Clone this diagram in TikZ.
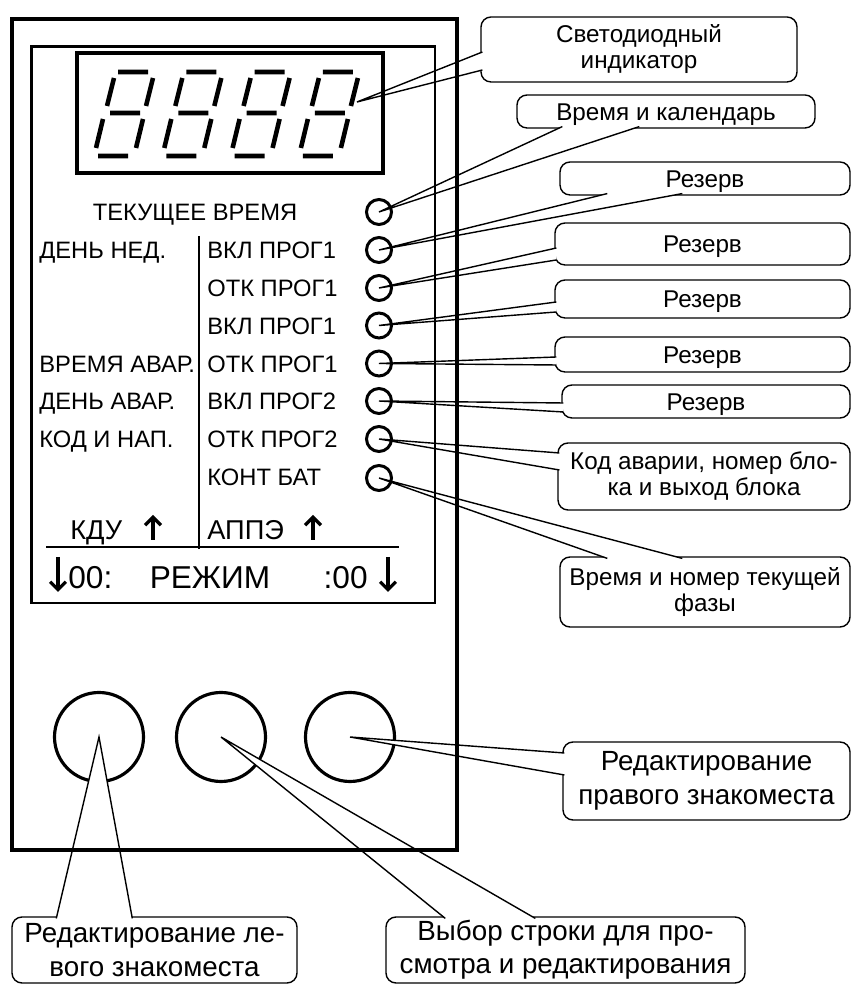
\documentclass[tikz,border=0pt]{standalone}
\usepackage{fontspec}
\setmainfont{Liberation Sans}
\usetikzlibrary{calc,arrows.meta}

\tikzset{
  led/.style={circle, draw, line width=1.7pt, minimum size=0.5cm, inner sep=0pt},
  knob/.style={circle, draw, line width=1.8pt, minimum size=1.78cm, inner sep=0pt},
  lbl/.style={font=\fontsize{13.5}{15}\selectfont, inner sep=0pt, text height=9.7pt, text depth=0pt},
  big/.style={font=\fontsize{15.5}{18}\selectfont, inner sep=0pt, text height=11.1pt, text depth=0pt},
  modetxt/.style={font=\fontsize{18}{20}\selectfont, inner sep=0pt, text height=12.9pt, text depth=0pt},
  note/.style={draw, line width=0.8pt, rounded corners=0.2cm, align=center, inner sep=0pt, font=\fontsize{13.8}{14.8}\selectfont},
  noteone/.style={note, text height=9.9pt, text depth=0pt},
  notebig/.style={note, font=\fontsize{15.8}{19}\selectfont},
  wedge/.style={draw, line width=0.8pt, fill=white},
  seg/.style={line width=2.6pt},
  arr/.style={->, line width=1.9pt}
}

\begin{document}
\begin{tikzpicture}[>={Straight Barb[length=4.5pt,width=9pt]}]
\useasboundingbox (0,0) rectangle (17.06,19.70);
\foreach \y [count=\i] in {15.46,14.70,13.94,13.19,12.43,11.68,10.92,10.14}
  \node[led] (l\i) at (7.58,\y) {};
\node[knob] (b1) at (1.98,4.96) {};
\node[knob] (b2) at (4.42,4.96) {};
\node[knob] (b3) at (7.00,4.96) {};
\coordinate (dig) at (7.14,17.66);

\node[note, minimum width=6.32cm, minimum height=1.30cm] (cled) at (12.78,18.71) {Светодиодный\\индикатор};
\node[noteone, minimum width=5.96cm, minimum height=0.66cm] (ctime) at (13.32,17.47) {Время и календарь};
\node[noteone, minimum width=5.80cm, minimum height=0.66cm] (res1) at (14.10,16.13) {Резерв};
\node[noteone, minimum width=5.90cm, minimum height=0.84cm] (res2) at (14.05,14.82) {Резерв};
\node[noteone, minimum width=5.90cm, minimum height=0.76cm] (res3) at (14.05,13.72) {Резерв};
\node[noteone, minimum width=5.90cm, minimum height=0.70cm] (res4) at (14.05,12.61) {Резерв};
\node[noteone, minimum width=5.76cm, minimum height=0.66cm] (res5) at (14.12,11.67) {Резерв};
\node[note, minimum width=5.84cm, minimum height=1.34cm] (ccode) at (14.08,10.17) {Код аварии, номер бло-\\ка и выход блока};
\node[note, minimum width=5.80cm, minimum height=1.40cm] (cphase) at (14.10,7.86) {Время и номер текущей\\фазы};
\node[notebig, minimum width=5.74cm, minimum height=1.56cm] (cright) at (14.13,4.08) {Редактирование\\правого знакоместа};
\node[notebig, minimum width=5.70cm, minimum height=1.32cm] (cleft) at (3.09,0.70) {Редактирование ле-\\вого знакоместа};
\node[notebig, minimum width=7.18cm, minimum height=1.32cm] (cmid) at (11.31,0.70) {Выбор строки для про-\\смотра и редактирования};

\draw[wedge] ([xshift=1.2pt,yshift=-0.05cm]cled.west) -- (dig) -- ([xshift=1.2pt,yshift=-0.41cm]cled.west);
\draw[wedge] ([xshift=0.92cm,yshift=1.2pt]ctime.south west) -- (l1.center) -- ([xshift=2.46cm,yshift=1.2pt]ctime.south west);
\draw[wedge] ([xshift=0.96cm,yshift=1.2pt]res1.south west) -- (l2.center) -- ([xshift=2.46cm,yshift=1.2pt]res1.south west);
\draw[wedge] ([xshift=1.2pt,yshift=-0.08cm]res2.west) -- (l3.center) -- ([xshift=1.2pt,yshift=-0.32cm]res2.west);
\draw[wedge] ([xshift=1.2pt,yshift=-0.06cm]res3.west) -- (l4.center) -- ([xshift=1.2pt,yshift=-0.26cm]res3.west);
\draw[wedge] ([xshift=1.2pt,yshift=-0.05cm]res4.west) -- (l5.center) -- ([xshift=1.2pt,yshift=-0.21cm]res4.west);
\draw[wedge] ([xshift=1.2pt,yshift=-0.03cm]res5.west) -- (l6.center) -- ([xshift=1.2pt,yshift=-0.21cm]res5.west);
\draw[wedge] ([xshift=1.2pt,yshift=0.47cm]ccode.west) -- (l7.center) -- ([xshift=1.2pt,yshift=0.13cm]ccode.west);
\draw[wedge] ([xshift=0.96cm,yshift=-1.2pt]cphase.north west) -- (l8.center) -- ([xshift=2.46cm,yshift=-1.2pt]cphase.north west);
\draw[wedge] ([xshift=1.2pt,yshift=0.56cm]cright.west) -- (b3.center) -- ([xshift=1.2pt,yshift=0.12cm]cright.west);
\draw[wedge] ([xshift=0.90cm,yshift=-1.2pt]cleft.north west) -- (b1.center) -- ([xshift=2.42cm,yshift=-1.2pt]cleft.north west);
\draw[wedge] ([xshift=1.20cm,yshift=-1.2pt]cmid.north west) -- (b2.center) -- ([xshift=3.00cm,yshift=-1.2pt]cmid.north west);

\draw[line width=2.3pt] (0.24,2.70) rectangle (9.14,19.32);
\draw[line width=1.5pt] (0.63,7.64) rectangle (8.70,18.77);
\draw[line width=1.9pt] (1.54,16.24) rectangle (7.66,18.64);
\foreach \d in {0,...,3}
  \draw[seg, xshift=\d*1.366cm] (2.36,18.26) -- (2.96,18.26)
    (2.28,18.14) -- (2.14,17.58) (3.06,18.14) -- (2.92,17.58)
    (2.20,17.44) -- (2.80,17.44)
    (2.06,17.32) -- (1.92,16.74) (2.86,17.32) -- (2.72,16.74)
    (1.96,16.58) -- (2.56,16.58);

\node[lbl] (now) at (3.90,15.46) {ТЕКУЩЕЕ ВРЕМЯ};
\node[lbl, anchor=west] (dow) at (0.78,14.70) {ДЕНЬ НЕД.};
\node[lbl, anchor=west] (tav) at (0.78,12.43) {ВРЕМЯ АВАР.};
\node[lbl, anchor=west] (dav) at (0.78,11.68) {ДЕНЬ АВАР.};
\node[lbl, anchor=west] (kod) at (0.78,10.92) {КОД И НАП.};
\node[lbl, anchor=west] (on1) at (4.14,14.70) {ВКЛ ПРОГ1};
\node[lbl, anchor=west] (off1) at (4.14,13.94) {ОТК ПРОГ1};
\node[lbl, anchor=west] (on1b) at (4.14,13.19) {ВКЛ ПРОГ1};
\node[lbl, anchor=west] (off1b) at (4.14,12.43) {ОТК ПРОГ1};
\node[lbl, anchor=west] (on2) at (4.14,11.68) {ВКЛ ПРОГ2};
\node[lbl, anchor=west] (off2) at (4.14,10.92) {ОТК ПРОГ2};
\node[lbl, anchor=west] (bat) at (4.14,10.16) {КОНТ БАТ};
\node[big, anchor=west] (kdu) at (1.40,9.10) {КДУ};
\node[big, anchor=west] (appe) at (4.14,9.10) {АППЭ};
\node[modetxt, anchor=west] (lz) at (1.36,8.16) {00:};
\node[modetxt] (mode) at (4.20,8.16) {РЕЖИМ};
\node[modetxt, anchor=east] (rz) at (7.36,8.16) {:00};

\draw[line width=0.6pt] (3.98,14.98) -- (3.98,8.72);
\draw[line width=0.8pt] (0.92,8.76) -- (7.98,8.76);
\draw[arr] (3.06,8.90) -- (3.06,9.40);
\draw[arr] (6.26,8.90) -- (6.26,9.40);
\draw[arr] (1.16,8.56) -- (1.16,7.86);
\draw[arr] (7.76,8.56) -- (7.76,7.86);
\end{tikzpicture}
\end{document}
